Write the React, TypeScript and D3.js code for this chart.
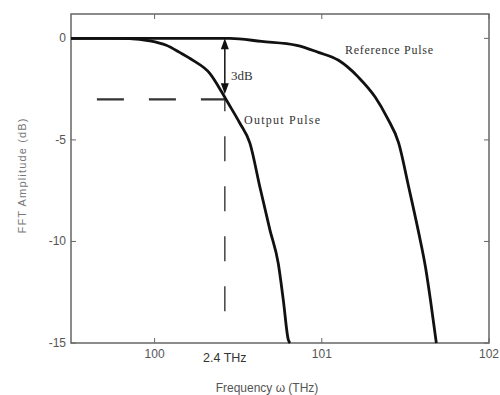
import React from "react";
import * as d3 from "d3";

// Output pulse spectrum
const outputFreq = [99.5, 99.73, 99.85, 99.97, 100.07, 100.15, 100.23, 100.33, 100.4, 100.43, 100.51, 100.57, 100.63, 100.69, 100.74, 100.77, 100.8, 100.81];
const outputAmp = [0, 0, -0.01, -0.12, -0.34, -0.69, -1.08, -1.72, -2.62, -3.05, -4.18, -5.16, -7.33, -9.44, -11.1, -12.9, -14.85, -15];

// Reference pulse spectrum
const refFreq = [99.5, 100.45, 100.64, 100.85, 100.98, 101.1, 101.22, 101.32, 101.39, 101.46, 101.52, 101.58, 101.62, 101.65, 101.68, 101.685];
const refAmp = [0, 0, -0.15, -0.34, -0.69, -1.08, -1.92, -2.9, -3.89, -5.16, -7.33, -9.59, -11.26, -12.89, -14.7, -15];

const xTicks = [100, 101, 102];
const yTicks = [0, -5, -10, -15];

// 3 dB marker
const markFreq = 100.42;
const markDb = -3;
const dashStartFreq = 99.655;
const dashEndDb = -13.6;

const W = 500, H = 395;
const left = 71, right = 489, top = 14, bottom = 343;

const axisColor = "#666";
const textColor = "#555";

export default function App() {
  const x = d3.scaleLinear().domain([99.5, 102]).range([left, right]);
  const y = d3.scaleLinear().domain([-15, 1.2]).range([bottom, top]);

  const line = d3
    .line<[number, number]>()
    .x((d) => x(d[0]))
    .y((d) => y(d[1]))
    .curve(d3.curveMonotoneX);

  const outPts = outputFreq.map((f, i) => [f, outputAmp[i]] as [number, number]);
  const refPts = refFreq.map((f, i) => [f, refAmp[i]] as [number, number]);

  const mx = x(markFreq);
  const arrowTop = y(0);
  const arrowBot = y(-2.75);

  return (
    <svg width={W} height={H} style={{ position: "absolute", left: 0, top: 0, background: "#fff" }}>
      {/* frame */}
      <rect x={left} y={top} width={right - left} height={bottom - top} fill="none" stroke={axisColor} strokeWidth={1.5} />

      {/* x ticks */}
      {xTicks.map((t) => (
        <g key={"x" + t}>
          <line x1={x(t)} x2={x(t)} y1={bottom} y2={bottom - 5} stroke={axisColor} />
          <line x1={x(t)} x2={x(t)} y1={top} y2={top + 5} stroke={axisColor} />
          <text x={x(t)} y={bottom + 15} textAnchor="middle" fontFamily="Liberation Sans, Arial, sans-serif" fontSize={12} fill={textColor}>
            {t}
          </text>
        </g>
      ))}
      <text x={x(markFreq)} y={bottom + 19} textAnchor="middle" fontFamily="Liberation Sans, Arial, sans-serif" fontSize={12.5} fill="#333">
        2.4 THz
      </text>

      {/* y ticks */}
      {yTicks.map((t) => (
        <g key={"y" + t}>
          <line x1={left} x2={left + 5} y1={y(t)} y2={y(t)} stroke={axisColor} />
          <line x1={right} x2={right - 5} y1={y(t)} y2={y(t)} stroke={axisColor} />
          <text x={left - 5} y={y(t) + 4} textAnchor="end" fontFamily="Liberation Sans, Arial, sans-serif" fontSize={12} fill={textColor}>
            {t}
          </text>
        </g>
      ))}

      {/* axis titles */}
      <text x={267} y={392} textAnchor="middle" fontFamily="Liberation Sans, Arial, sans-serif" fontSize={12} fill={textColor}>
        Frequency ω (THz)
      </text>
      <text
        transform={`translate(26, 176) rotate(-90)`}
        textAnchor="middle"
        fontFamily="Liberation Sans, Arial, sans-serif"
        fontSize={11}
        fill="#777"
        textLength={115}
      >
        FFT Amplitude (dB)
      </text>

      {/* 3 dB dashed guides */}
      <line x1={x(dashStartFreq)} x2={mx} y1={y(markDb)} y2={y(markDb)} stroke="#333" strokeWidth={2.2} strokeDasharray="27,25" />
      <line x1={mx} x2={mx} y1={y(markDb)} y2={y(dashEndDb)} stroke="#444" strokeWidth={1.5} strokeDasharray="25,25" strokeDashoffset={13} />

      {/* curves */}
      <path d={line(refPts) || ""} fill="none" stroke="#111" strokeWidth={2.8} />
      <path d={line(outPts) || ""} fill="none" stroke="#111" strokeWidth={2.8} />

      {/* double arrow */}
      <line x1={mx} x2={mx} y1={arrowTop + 8} y2={arrowBot - 8} stroke="#111" strokeWidth={1.5} />
      <path d={`M${mx},${arrowTop} L${mx - 4},${arrowTop + 11} L${mx + 4},${arrowTop + 11} Z`} fill="#111" />
      <path d={`M${mx},${arrowBot} L${mx - 4},${arrowBot - 11} L${mx + 4},${arrowBot - 11} Z`} fill="#111" />

      {/* annotations */}
      <text x={231} y={80} fontFamily="Liberation Serif, Times New Roman, serif" fontSize={13} fill="#333">
        3dB
      </text>
      <text x={244} y={124} fontFamily="Liberation Serif, Times New Roman, serif" fontSize={12} fill="#333" textLength={76}>
        Output Pulse
      </text>
      <text x={345} y={54} fontFamily="Liberation Serif, Times New Roman, serif" fontSize={12} fill="#333" textLength={88}>
        Reference Pulse
      </text>
    </svg>
  );
}
